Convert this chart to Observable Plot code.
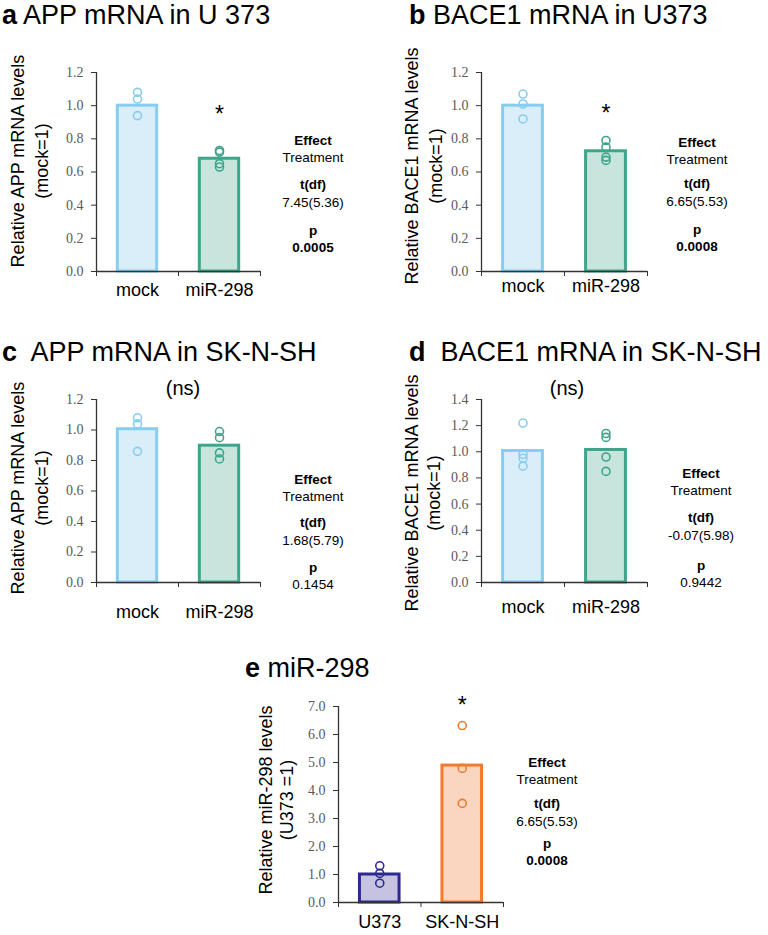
<!DOCTYPE html>
<html>
<head>
<meta charset="utf-8">
<script src="https://cdn.jsdelivr.net/npm/d3@7"></script>
<script src="https://cdn.jsdelivr.net/npm/@observablehq/plot@0.6"></script>
<style>
  body { margin: 0; background: #fff; font-family: "Liberation Sans", Arial, sans-serif; }
  #root { position: relative; width: 768px; height: 935px; overflow: hidden; background: #fff; }
  .abs { position: absolute; white-space: nowrap; color: #000; }
  .title { font-size: 27px; line-height: 27px; }
  .title b { font-weight: bold; }
  .ylab { font-size: 18px; text-align: center; transform: translate(-50%, -50%) rotate(-90deg); }
  .ns { font-size: 20px; transform: translate(-50%, -50%); }
  .stat { font-size: 13.5px; transform: translate(-50%, -50%); text-align: center; }
  .stat.bold { font-weight: bold; }
  .plotwrap { position: absolute; }
  .plotwrap svg { overflow: visible; }
</style>
</head>
<body>
<div id="root"></div>
<script>
// ---------- data ----------
const treatCats = ["mock", "miR-298"];
const cellCats = ["U373", "SK-N-SH"];

const aMeans = [1.00, 0.68];
const aMockPts = [1.08, 1.04, 0.94];
const aMirPts = [0.73, 0.72, 0.65, 0.63];

const bMeans = [1.00, 0.725];
const bMockPts = [1.07, 1.01, 0.92];
const bMirPts = [0.79, 0.75, 0.69, 0.67];

const cMeans = [1.005, 0.897];
const cMockPts = [1.08, 1.04, 0.86];
const cMirPts = [0.99, 0.95, 0.85, 0.81];

const dMeans = [1.006, 1.014];
const dMockPts = [1.22, 0.98, 0.95, 0.89];
const dMirPts = [1.14, 1.11, 0.96, 0.85];

const eMeans = [1.0, 4.89];
const eU373Pts = [1.31, 1.04, 0.69];
const eSkPts = [6.32, 4.79, 3.54];

const statHeads = ["Effect", "Treatment", "t(df)", "p"];
const aStats = ["7.45(5.36)", "0.0005"];
const bStats = ["6.65(5.53)", "0.0008"];
const cStats = ["1.68(5.79)", "0.1454"];
const dStats = ["-0.07(5.98)", "0.9442"];
const eStats = ["6.65(5.53)", "0.0008"];

const aSig = [1], bSig = [1], cSig = [], dSig = [], eSig = [1];

// ---------- styles ----------
const treatFills = ["#daeef9", "#c8e5dd"];
const treatStrokes = ["#88cdee", "#3ea58b"];
const cellFills = ["#c5c3e0", "#fad6c1"];
const cellStrokes = ["#2d2990", "#f07b30"];
const HALF = 0.24;

const root = document.getElementById("root");

function addDiv(cls, html, left, top) {
  const d = document.createElement("div");
  d.className = "abs " + cls;
  d.innerHTML = html;
  d.style.left = left + "px";
  d.style.top = top + "px";
  root.appendChild(d);
  return d;
}

function drawPanel(p) {
  const ml = 90, mr = 30, mt = 40, mb = 40;
  const W = ml + (p.x1 - p.x0) + mr;
  const H = mt + (p.y1 - p.y0) + mb;
  const n = p.cats.length;
  const bars = p.cats.map((c, i) => ({i, cat: c, v: p.means[i], fill: p.fills[i], stroke: p.strokes[i]}));
  const pts = p.points.flatMap((arr, i) => arr.map(v => ({i, v, stroke: p.strokes[i]})));
  const ticks = d3.range(0, p.yMax + p.yStep / 2, p.yStep);
  const stars = p.sig.map(i => ({i}));
  const chart = Plot.plot({
    width: W, height: H,
    marginLeft: ml, marginRight: mr, marginTop: mt, marginBottom: mb,
    x: {domain: [0, n], axis: null, label: null},
    y: {domain: [0, p.yMax], axis: null, label: null},
    color: {type: "identity"},
    style: {overflow: "visible", background: "transparent", color: "#333"},
    marks: [
      Plot.rectY(bars, {x1: d => d.i + 0.5 - HALF, x2: d => d.i + 0.5 + HALF, y1: 0, y2: "v",
        fill: "fill", stroke: "stroke", strokeWidth: 3}),
      Plot.ruleY([0], {stroke: "#333", strokeWidth: 1.3}),
      Plot.ruleX([0], {stroke: "#333", strokeWidth: 1.3}),
      Plot.axisY({ticks, tickSize: 5, tickPadding: 8, tickFormat: d3.format(".1f"), label: null,
        stroke: "#333", fill: "#5a5a5a", fontFamily: "Liberation Serif, Times New Roman, serif", fontSize: 14}),
      Plot.axisX({ticks: d3.range(0, n + 1), tickSize: 5, tickFormat: () => "", label: null, stroke: "#333"}),
      Plot.dot(pts, {x: d => d.i + 0.5, y: "v", r: 4, stroke: "stroke", strokeWidth: 1.6, fill: "none"}),
      Plot.text(bars, {x: d => d.i + 0.5, y: 0, dy: p.labelDy, text: "cat", fontSize: 18,
        fill: "#000", fontFamily: "Liberation Sans, Arial, sans-serif"}),
      Plot.text(stars, {x: d => d.i + 0.5, frameAnchor: "top", dy: p.starDy, text: () => "*",
        fontSize: 23, fill: "#000", fontFamily: "Liberation Sans, Arial, sans-serif"})
    ]
  });
  const wrap = document.createElement("div");
  wrap.className = "plotwrap";
  wrap.style.left = (p.x0 - ml) + "px";
  wrap.style.top = (p.y0 - mt) + "px";
  wrap.appendChild(chart);
  root.appendChild(wrap);

  // title
  addDiv("title", `<b>${p.letter}</b>${p.titleGap}${p.title}`, p.titleX, p.titleBase - 23);
  // y label
  addDiv("ylab", p.ylab.join("<br>"), p.ylabX, p.ylabY).style.lineHeight = p.ylabLH + "px";
  if (p.ns) addDiv("ns", "(ns)", p.nsX, p.nsY);
  // stats
  const lines = [
    [statHeads[0], true, p.statY[0]],
    [statHeads[1], false, p.statY[0] + 16.5],
    [statHeads[2], true, p.statY[1]],
    [p.stats[0], false, p.statY[1] + 17.5],
    [statHeads[3], true, p.statY[2]],
    [p.stats[1], p.pBold, p.statY[2] + 17]
  ];
  for (const [t, bold, y] of lines) addDiv("stat" + (bold ? " bold" : ""), t, p.statX, y);
}

const panels = [
  {letter: "a", titleGap: " ", title: "APP mRNA in U 373", titleX: 2, titleBase: 25,
   x0: 96, x1: 260, y0: 72, y1: 271, yMax: 1.2, yStep: 0.2,
   cats: treatCats, means: aMeans, points: [aMockPts, aMirPts], fills: treatFills, strokes: treatStrokes,
   sig: aSig, starDy: 33, labelDy: 19,
   ylab: ["Relative APP mRNA levels", "(mock=1)"], ylabX: 30, ylabY: 161, ylabLH: 24,
   stats: aStats, pBold: true, statX: 313, statY: [140, 184, 230]},
  {letter: "b", titleGap: " ", title: "BACE1 mRNA in U373", titleX: 409, titleBase: 25,
   x0: 481, x1: 647, y0: 72, y1: 271, yMax: 1.2, yStep: 0.2,
   cats: treatCats, means: bMeans, points: [bMockPts, bMirPts], fills: treatFills, strokes: treatStrokes,
   sig: bSig, starDy: 32, labelDy: 15,
   ylab: ["Relative BACE1 mRNA levels", "(mock=1)"], ylabX: 424, ylabY: 166, ylabLH: 24,
   stats: bStats, pBold: true, statX: 697, statY: [142, 183, 229]},
  {letter: "c", titleGap: "&nbsp; ", title: "APP mRNA in SK-N-SH", titleX: 2, titleBase: 362,
   x0: 96, x1: 260, y0: 399, y1: 582, yMax: 1.2, yStep: 0.2,
   cats: treatCats, means: cMeans, points: [cMockPts, cMirPts], fills: treatFills, strokes: treatStrokes,
   sig: cSig, starDy: 0, labelDy: 30,
   ylab: ["Relative APP mRNA levels", "(mock=1)"], ylabX: 30, ylabY: 488, ylabLH: 24,
   ns: true, nsX: 183, nsY: 388,
   stats: cStats, pBold: false, statX: 313, statY: [479, 522, 567]},
  {letter: "d", titleGap: "&nbsp; ", title: "BACE1 mRNA in SK-N-SH", titleX: 409, titleBase: 362,
   x0: 481, x1: 647, y0: 399, y1: 582, yMax: 1.4, yStep: 0.2,
   cats: treatCats, means: dMeans, points: [dMockPts, dMirPts], fills: treatFills, strokes: treatStrokes,
   sig: dSig, starDy: 0, labelDy: 25,
   ylab: ["Relative BACE1 mRNA levels", "(mock=1)"], ylabX: 423, ylabY: 493, ylabLH: 22,
   ns: true, nsX: 567, nsY: 388,
   stats: dStats, pBold: false, statX: 701, statY: [473, 517, 565]},
  {letter: "e", titleGap: " ", title: "miR-298", titleX: 245, titleBase: 678,
   x0: 338, x1: 503, y0: 706, y1: 902, yMax: 7.0, yStep: 1.0,
   cats: cellCats, means: eMeans, points: [eU373Pts, eSkPts], fills: cellFills, strokes: cellStrokes,
   sig: eSig, starDy: -10, labelDy: 20,
   ylab: ["Relative miR-298 levels", "(U373 =1)"], ylabX: 277, ylabY: 800, ylabLH: 21,
   stats: eStats, pBold: true, statX: 547, statY: [762, 803, 843]}
];

panels.forEach(drawPanel);
</script>
</body>
</html>
